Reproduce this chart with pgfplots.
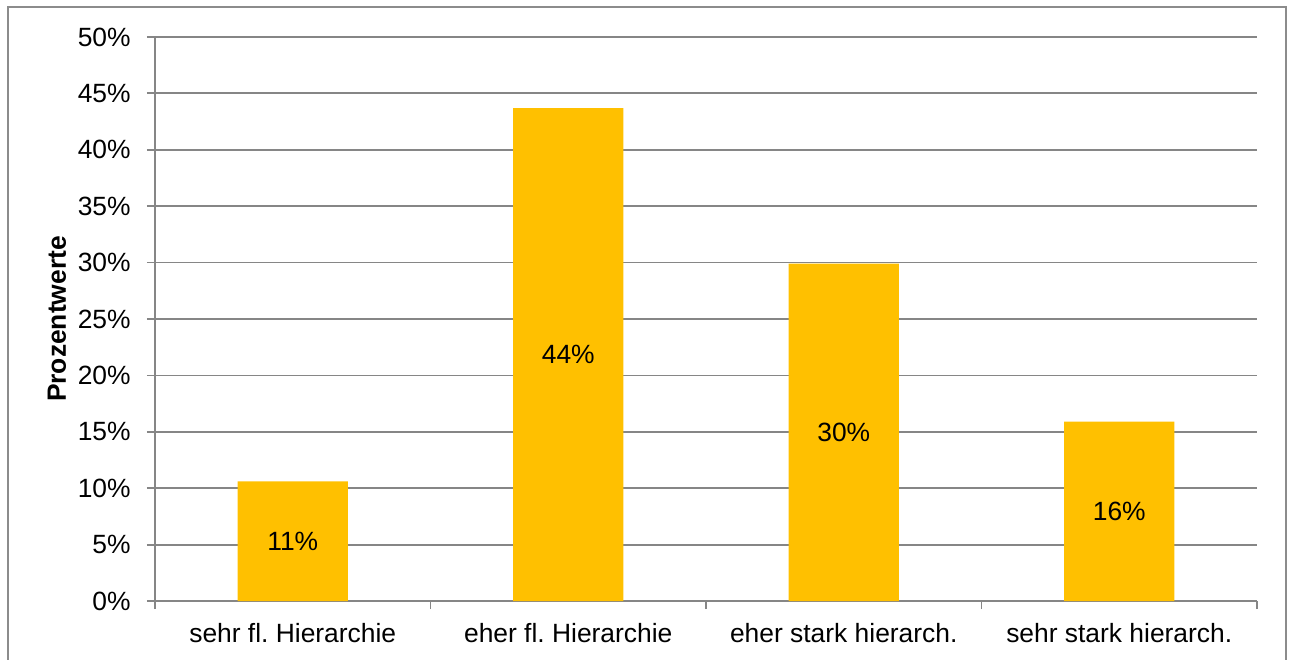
\documentclass[border=0pt]{standalone}
\usepackage{fontspec}
\setmainfont{Liberation Sans}
\usepackage{pgfplots}
\pgfplotsset{compat=1.18}
\definecolor{gridgray}{RGB}{134,134,134}
\definecolor{framegray}{RGB}{140,140,140}
\definecolor{baryellow}{RGB}{255,192,0}
\frenchspacing
\begin{document}
\begin{tikzpicture}
\useasboundingbox (0pt,0pt) rectangle (645pt,329.5pt);
\draw[framegray, line width=1pt] (3.75pt,-5pt) rectangle (643pt,325.75pt);
\begin{axis}[
  at={(77.5pt,29pt)}, anchor=south west,
  scale only axis, width=551pt, height=282pt,
  font=\fontsize{13.2pt}{15.8pt}\selectfont,
  /pgf/number format/assume math mode=true,
  xmin=-0.5, xmax=3.5, ymin=0, ymax=50,
  enlargelimits=false,
  axis x line*=bottom, axis y line*=left,
  axis line style={draw=gridgray, line width=0.9pt, -},
  ybar, bar width=0.4,
  xtick={0,1,2,3},
  xticklabels={sehr fl. Hierarchie, eher fl. Hierarchie, eher stark hierarch., sehr stark hierarch.},
  major x tick style={draw=none},
  minor xtick={-0.5,0.5,1.5,2.5,3.5},
  minor x tick style={draw=gridgray, line width=0.9pt},
  minor tick length=4pt,
  ytick={0,5,...,50},
  yticklabels={0\%,5\%,10\%,15\%,20\%,25\%,30\%,35\%,40\%,45\%,50\%},
  tick align=outside,
  major tick length=4pt,
  major y tick style={draw=gridgray, line width=0.9pt},
  ymajorgrids, major grid style={draw=gridgray, line width=0.9pt},
  yticklabel style={anchor=east, inner sep=0pt, xshift=-8pt},
  xticklabel style={anchor=north, inner sep=0pt, yshift=-7pt},
  ylabel={\bfseries Prozentwerte},
  ylabel style={at={(axis description cs:-0.0889,0.5)}, anchor=center},
]
\addplot[fill=baryellow, draw=none,
  point meta=y,
  visualization depends on={rawy \as \rawy},
  nodes near coords={\pgfmathprintnumber[fixed,precision=0]{\pgfplotspointmeta}\%},
  every node near coord/.append style={anchor=center, text=black, shift={(axis direction cs:0,-\rawy/2)}},
] coordinates {(0,10.6) (1,43.7) (2,29.9) (3,15.9)};
\end{axis}
\end{tikzpicture}
\end{document}
